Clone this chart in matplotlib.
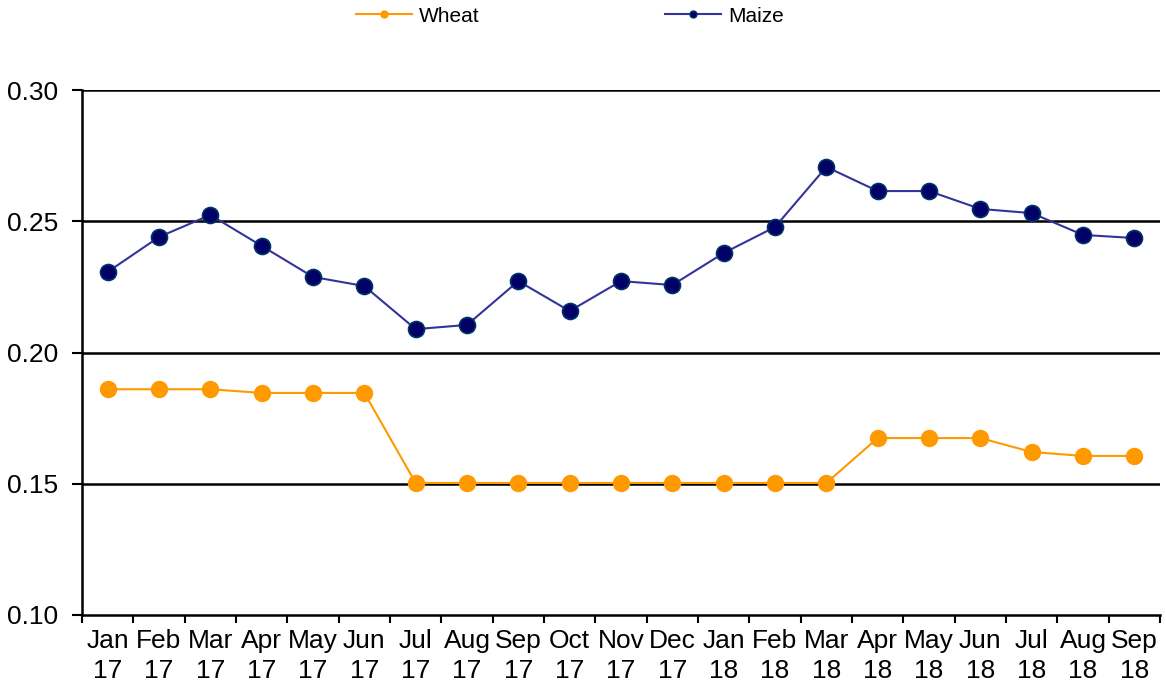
import matplotlib
matplotlib.use('Agg')
import matplotlib.pyplot as plt
from matplotlib.lines import Line2D

plt.rcParams['font.family'] = ['Liberation Sans', 'DejaVu Sans']

# Month labels (two lines: month / year)
months = ['Jan', 'Feb', 'Mar', 'Apr', 'May', 'Jun', 'Jul', 'Aug', 'Sep', 'Oct', 'Nov', 'Dec',
          'Jan', 'Feb', 'Mar', 'Apr', 'May', 'Jun', 'Jul', 'Aug', 'Sep']
years = ['17'] * 12 + ['18'] * 9

wheat = [0.186, 0.186, 0.186, 0.1846, 0.1846, 0.1846, 0.1503, 0.1503, 0.1503, 0.1503, 0.1503,
         0.1503, 0.1503, 0.1503, 0.1503, 0.1674, 0.1674, 0.1674, 0.1621, 0.1606, 0.1606]
maize = [0.2307, 0.2440, 0.2524, 0.2406, 0.2288, 0.2253, 0.2089, 0.2105, 0.2272, 0.2158, 0.2272,
         0.2257, 0.2379, 0.2478, 0.2707, 0.2615, 0.2615, 0.2547, 0.2531, 0.2448, 0.2436]

fig = plt.figure(figsize=(11.66, 6.87), dpi=100)
ax = fig.add_axes([82 / 1166, 1 - 615 / 687, (1160 - 82) / 1166, (615 - 90) / 687])

x = list(range(len(months)))

for yv in [0.15, 0.20, 0.25, 0.30]:
    ax.axhline(yv, color='black', lw=1.8, zorder=1)

ax.plot(x, wheat, color='#FF9900', lw=1.5, marker='o', markersize=11.5,
        markerfacecolor='#FF9900', markeredgecolor='#FF9900', zorder=3)
ax.plot(x, maize, color='#333399', lw=1.5, marker='o', markersize=11.5,
        markerfacecolor='#000066', markeredgecolor='#003366', markeredgewidth=1.2, zorder=3)

ax.set_xlim(-0.5, len(months) - 0.5)
ax.set_ylim(0.10, 0.30)
ax.set_yticks([0.10, 0.15, 0.20, 0.25, 0.30])
ax.set_yticklabels(['0.10', '0.15', '0.20', '0.25', '0.30'], fontsize=19)

# ticks at category boundaries, labels at centres
ax.set_xticks([i - 0.5 for i in range(len(months) + 1)])
ax.set_xticklabels([])
ax.set_xticks(x, minor=True)
ax.set_xticklabels([m + '\n' + y for m, y in zip(months, years)], minor=True,
                   fontsize=19, linespacing=1.3)
ax.tick_params(axis='x', which='minor', length=0, pad=10)
ax.tick_params(axis='x', which='major', length=6, width=1.5, direction='out')
ax.tick_params(axis='y', length=7, width=1.5, direction='out', pad=10)

for s in ['top', 'right']:
    ax.spines[s].set_visible(False)
for s in ['left', 'bottom']:
    ax.spines[s].set_linewidth(1.8)
    ax.spines[s].set_color('black')

handles = [
    Line2D([], [], color='#FF9900', lw=1.5, marker='o', markersize=5,
           markerfacecolor='#FF9900', markeredgecolor='#FF9900'),
    Line2D([], [], color='#333399', lw=1.5, marker='o', markersize=5,
           markerfacecolor='#000066', markeredgecolor='#003366'),
]
fig.legend(handles, ['Wheat', 'Maize'], loc='center', bbox_to_anchor=(570 / 1166, 1 - 16 / 687),
           ncol=2, frameon=False, fontsize=15, columnspacing=8.9, handlelength=2.7,
           handletextpad=0.35)

fig.savefig('out.png', dpi=100)
